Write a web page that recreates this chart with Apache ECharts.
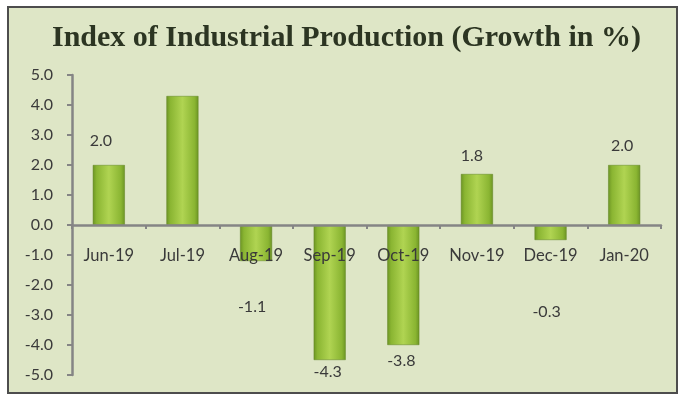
<!DOCTYPE html>
<html>
<head>
<meta charset="utf-8">
<script src="https://cdn.jsdelivr.net/npm/echarts@6/dist/echarts.min.js"></script>
<style>
html,body{margin:0;padding:0;background:#ffffff;}
#chart{width:681px;height:396px;}
</style>
</head>
<body>
<div id="chart"></div>
<script>
// ---- data ----
var categories = ["Jun-19","Jul-19","Aug-19","Sep-19","Oct-19","Nov-19","Dec-19","Jan-20"];
var barValues  = [2.0, 4.3, -1.2, -4.5, -4.0, 1.7, -0.5, 2.0];
var labelTexts = ["2.0", null, "-1.1", "-4.3", "-3.8", "1.8", "-0.3", "2.0"];
var yTicks = {min: -5, max: 5, interval: 1};

// ---- layout (label nudges, px) ----
var labelOffsets = [[-8,-11],[0,0],[-4,33],[-2,-1],[-2,3],[-5,-5],[-4,59],[-2,-6]];
var gridTop = 75, gridBottom = 21, chartH = 396;
var zeroShift = -((chartH - gridTop - gridBottom) * (0 - yTicks.min) / (yTicks.max - yTicks.min));

var chart = echarts.init(document.getElementById('chart'), null, {renderer:'canvas'});
var barGrad = new echarts.graphic.LinearGradient(0,0,1,0,[
  {offset:0, color:'#6c9424'},
  {offset:0.12, color:'#8ab532'},
  {offset:0.5, color:'#b0d452'},
  {offset:0.88, color:'#8ab532'},
  {offset:1, color:'#6c9424'}
]);
var font = 'Lato, "Open Sans", sans-serif';
var dataItems = barValues.map(function(v,i){
  return {
    value: v,
    label: {
      show: labelTexts[i] !== null,
      position: v >= 0 ? 'top' : 'bottom',
      offset: labelOffsets[i],
      formatter: function(){ return labelTexts[i]; }
    }
  };
});
chart.setOption({
  animation:false,
  backgroundColor:'#ffffff',
  graphic:[{
    type:'rect', z:-10, silent:true,
    shape:{x:8,y:7,width:669,height:386},
    style:{fill:'#dee6c6', stroke:'#4d4d4d', lineWidth:2}
  }],
  title:{
    text:'Index of Industrial Production (Growth in %)',
    left:47, top:18,
    textStyle:{fontFamily:'"Liberation Serif", serif', fontWeight:'bold', fontSize:30, color:'#2c3522'}
  },
  grid:{left:72, right:20, top:gridTop, bottom:gridBottom, containLabel:false, outerBoundsMode:'none'},
  xAxis:{
    type:'category', data:categories, z:10,
    position:'bottom', offset: zeroShift,
    axisLine:{onZero:false, lineStyle:{color:'#858585', width:2.5}},
    axisTick:{show:true, length:4, lineStyle:{color:'#858585', width:2}},
    axisLabel:{margin:22, fontFamily:font, fontSize:16.5, color:'#3a3a3a'},
    splitLine:{show:false}
  },
  yAxis:{
    type:'value', min:yTicks.min, max:yTicks.max, interval:yTicks.interval,
    axisLine:{show:true, lineStyle:{color:'#858585', width:2.5}},
    axisTick:{show:true, length:5, lineStyle:{color:'#858585', width:2}},
    axisLabel:{margin:19, fontFamily:font, fontSize:16, color:'#3a3a3a',
      formatter:function(v){return v.toFixed(1);}},
    splitLine:{show:false}
  },
  series:[{
    type:'bar', data:dataItems, barWidth:32,
    itemStyle:{color:barGrad, borderColor:'#5f8220', borderWidth:0.5},
    label:{show:true, distance:5, fontFamily:font, fontSize:16, color:'#3a3a3a'}
  }]
});
</script>
</body>
</html>
